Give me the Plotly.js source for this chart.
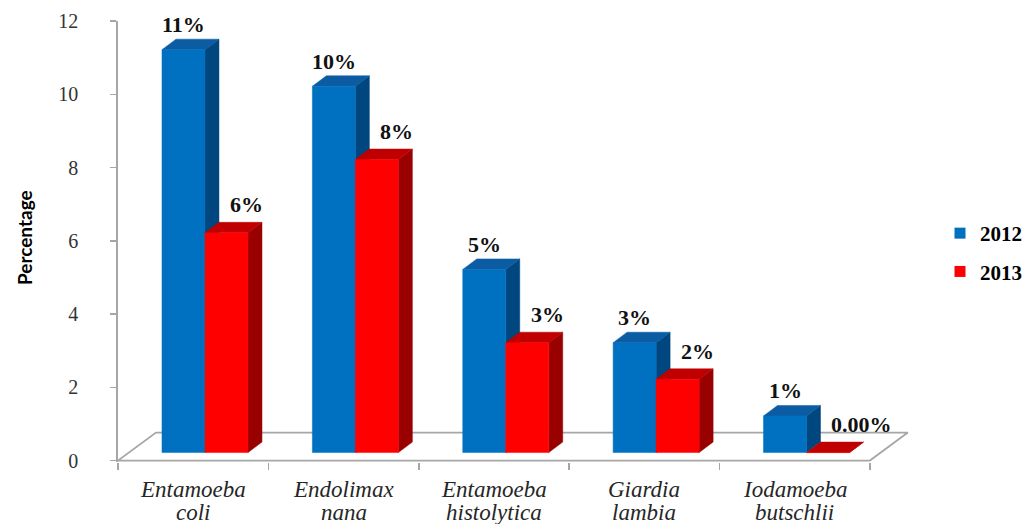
<!DOCTYPE html>
<html>
<head>
<meta charset="utf-8">
<script src="https://cdn.plot.ly/plotly-3.0.1.min.js"></script>
<style>html,body{margin:0;padding:0;background:#fff;}#chart{width:1027px;height:524px;}</style>
</head>
<body>
<div id="chart"></div>
<script>
// ---- data ----
const categoryLine1 = ["Entamoeba", "Endolimax", "Entamoeba", "Giardia", "Iodamoeba"];
const categoryLine2 = ["coli", "nana", "histolytica", "lambia", "butschlii"];
const series2012 = [11, 10, 5, 3, 1];
const series2013 = [6, 8, 3, 2, 0];
const labels2012 = ["11%", "10%", "5%", "3%", "1%"];
const labels2013 = ["6%", "8%", "3%", "2%", "0.00%"];
const seriesNames = ["2012", "2013"];
const yTicks = [0, 2, 4, 6, 8, 10, 12];

const SERIF = "Times New Roman, Liberation Serif, serif";

// ---- 3D look geometry (axis units) ----
const PXX = 150.4, PXY = 36.7;          // pixels per axis unit
const OFF = 44 / PXX;                    // gap from category start to first bar front
const W = 43 / PXX;                      // bar front width
const B = 8 / PXY;                       // bar base lift (depth placement)
const DX = 14 / PXX, DY = 10.5 / PXY;    // bar depth
const FDX = 38 / PXX, FDY = 28 / PXY;    // floor depth
const N = categoryLine1.length;

const faceColors = [
  {front: "#0070C0", top: "#0B5CA3", side: "#00467F"},
  {front: "#FF0000", top: "#C00000", side: "#990000"}
];

function buildFaces(values, s) {
  const f = {x: [], y: []}, t = {x: [], y: []}, sd = {x: [], y: []};
  values.forEach((v, i) => {
    const xl = i + OFF + s * W, xr = xl + W;
    f.x.push(xl, xr, xr, xl, xl, null); f.y.push(B, B, B + v, B + v, B, null);
    t.x.push(xl, xr, xr + DX, xl + DX, xl, null); t.y.push(B + v, B + v, B + v + DY, B + v + DY, B + v, null);
    sd.x.push(xr, xr, xr + DX, xr + DX, xr, null); sd.y.push(B, B + v, B + v + DY, B + DY, B, null);
  });
  return {f, t, sd};
}

function poly(p, color) {
  return {x: p.x, y: p.y, type: "scatter", mode: "lines", fill: "toself", fillcolor: color,
          line: {color: color, width: 0.5}, hoverinfo: "skip", showlegend: false};
}

const traces = [];
// floor
traces.push({
  x: [0, N, N + FDX, FDX, 0], y: [0, 0, FDY, FDY, 0], type: "scatter", mode: "lines",
  line: {color: "#A6A6A6", width: 1.8}, hoverinfo: "skip", showlegend: false
});
[series2012, series2013].forEach((vals, s) => {
  const fc = buildFaces(vals, s);
  traces.push(poly(fc.sd, faceColors[s].side));
  traces.push(poly(fc.t, faceColors[s].top));
  traces.push(poly(fc.f, faceColors[s].front));
});
// legend entries
seriesNames.forEach((nm, s) => {
  traces.push({x: [null], y: [null], type: "scatter", mode: "markers", name: nm, legendgroup: nm,
    marker: {symbol: "square", size: 11, color: faceColors[s].front}, hoverinfo: "skip"});
});

const annotations = [];
const labelFont = {family: SERIF, size: 22, color: "#111", weight: "bold"};
series2012.forEach((v, i) => {
  annotations.push({x: i + OFF + W / 2, y: B + v + DY, xref: "x", yref: "y", text: labels2012[i],
    showarrow: false, xanchor: "center", yanchor: "bottom", yshift: 0, font: labelFont});
});
series2013.forEach((v, i) => {
  annotations.push({x: i + OFF + W + 23 / PXX, y: B + v + DY, xref: "x", yref: "y", text: labels2013[i],
    showarrow: false, xanchor: "left", yanchor: "bottom", yshift: 3, font: labelFont});
});
// category labels (two lines)
const catFont = {family: SERIF, size: 23, color: "#262626", style: "italic"};
categoryLine1.forEach((c, i) => {
  annotations.push({x: i + 0.5, y: 0, xref: "x", yref: "paper", text: c, showarrow: false,
    xanchor: "center", yanchor: "middle", yshift: -27, font: catFont});
  annotations.push({x: i + 0.5, y: 0, xref: "x", yref: "paper", text: categoryLine2[i], showarrow: false,
    xanchor: "center", yanchor: "middle", yshift: -50, font: catFont});
});
annotations.push({x: -0.118, y: 0.51, xref: "paper", yref: "paper", text: "<b>Percentage</b>",
  textangle: -90, showarrow: false, xanchor: "center", yanchor: "middle",
  font: {family: "Lato, Carlito, sans-serif", size: 19, color: "#000"}});

const layout = {
  width: 1027, height: 524,
  margin: {l: 118, r: 112, t: 21, b: 62},
  paper_bgcolor: "#fff", plot_bgcolor: "rgba(0,0,0,0)",
  showlegend: true,
  legend: {xref: "container", yref: "container", x: 940 / 1027, y: 1 - 213 / 524, xanchor: "left", yanchor: "top",
    font: {family: SERIF, size: 21, color: "#000", weight: "bold"},
    tracegroupgap: 8, traceorder: "grouped", bgcolor: "rgba(0,0,0,0)"},
  xaxis: {range: [0, N + 0.3], showgrid: false, zeroline: false, showline: false,
    tickmode: "array", tickvals: categoryLine1.map((c, i) => i + 0.5), showticklabels: false,
    ticks: "",
    minor: {tickmode: "array", tickvals: categoryLine1.map((c, i) => i).concat([N]), ticks: "outside", ticklen: 7, tickcolor: "#A6A6A6", tickwidth: 1.5},
    fixedrange: true},
  yaxis: {range: [-0.04, 12], showgrid: false, zeroline: false, showline: true, linecolor: "#A6A6A6", linewidth: 1.8,
    tickmode: "array", tickvals: yTicks, ticks: "outside", ticklen: 6, tickcolor: "#A6A6A6", tickwidth: 1.5,
    ticklabelstandoff: 28,
    tickfont: {family: SERIF, size: 20, color: "#333"},
    fixedrange: true},
  annotations: annotations
};

Plotly.newPlot("chart", traces, layout, {displayModeBar: false, staticPlot: true});
</script>
</body>
</html>
